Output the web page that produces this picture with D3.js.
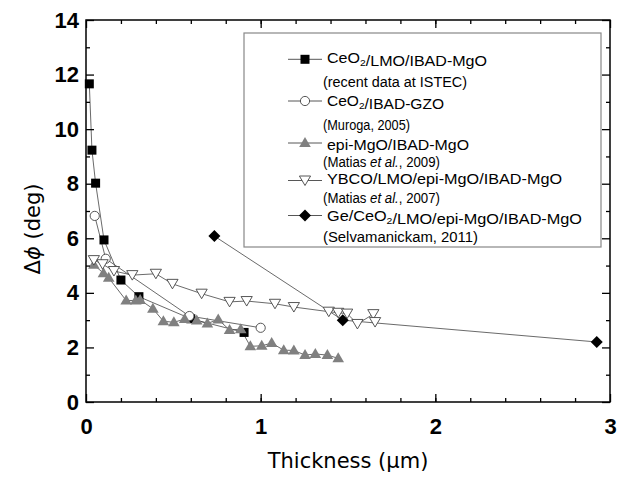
<!DOCTYPE html>
<html lang="en">
<head>
    <meta charset="UTF-8">
    <script src="https://d3js.org/d3.v7.min.js"></script>
    <title>Delta phi vs thickness</title>
    <style>
        body {
            margin: 0;
            overflow: hidden;
            background: white;
        }
        .tick-label {
            font-family: "Liberation Sans", Arial, sans-serif;
            font-weight: bold;
            font-size: 22px;
        }
        .legend text {
            font-family: "Liberation Sans", Arial, sans-serif;
            font-size: 14px;
        }
    </style>
</head>
<body>
    <script>
        // values
        const ceoLmo = [[0.019, 11.66], [0.034, 9.23], [0.055, 8.02], [0.103, 5.94], [0.20, 4.47],
                        [0.303, 3.86], [0.60, 3.05], [0.905, 2.55]];
        const ceoGzo = [[0.05, 6.82], [0.113, 5.25], [0.592, 3.15], [1.0, 2.72]];
        const epiMgo = [[0.045, 5.03], [0.10, 4.72], [0.13, 4.55], [0.23, 3.72], [0.285, 3.72],
                        [0.31, 3.74], [0.383, 3.42], [0.443, 2.96], [0.503, 2.92], [0.565, 3.04],
                        [0.634, 2.99], [0.695, 2.88], [0.757, 3.02], [0.822, 2.64], [0.886, 2.67],
                        [0.941, 2.04], [1.006, 2.06], [1.063, 2.16], [1.132, 1.90], [1.19, 1.89],
                        [1.254, 1.72], [1.313, 1.76], [1.382, 1.72], [1.444, 1.60]];
        const ybco = [[0.045, 5.2], [0.095, 5.05], [0.16, 4.8], [0.265, 4.65], [0.40, 4.7],
                      [0.495, 4.33], [0.662, 3.97], [0.822, 3.67], [0.92, 3.7], [1.082, 3.6],
                      [1.19, 3.48], [1.39, 3.31], [1.444, 3.27], [1.495, 3.24], [1.554, 2.86],
                      [1.645, 3.22], [1.655, 2.93]];
        const geCeo = [[0.735, 6.08], [1.47, 3.0], [2.924, 2.2]];

        const xTicks = [0, 1, 2, 3];
        const yTicks = [0, 2, 4, 6, 8, 10, 12, 14];

        const seriesNames = ["CeO2/LMO/IBAD-MgO", "CeO2/IBAD-GZO", "epi-MgO/IBAD-MgO",
                             "YBCO/LMO/epi-MgO/IBAD-MgO", "Ge/CeO2/LMO/epi-MgO/IBAD-MgO"];
        const seriesNotes = ["(recent data at ISTEC)", "(Muroga, 2005)", "(Matias et al., 2009)",
                             "(Matias et al., 2007)", "(Selvamanickam, 2011)"];
        const seriesData = [ceoLmo, ceoGzo, epiMgo, ybco, geCeo];
        const markerKinds = ["square", "circle", "triUp", "triDown", "diamond"];

        const width = 631, height = 479;
        const margin = {top: 20, left: 86, right: 21, bottom: 77};

        const svg = d3.select('body')
            .append('svg')
            .attr('width', width)
            .attr('height', height);

        const x = d3.scaleLinear()
            .domain([0, 3])
            .range([margin.left, width - margin.right]);

        const y = d3.scaleLinear()
            .domain([0, 14])
            .range([height - margin.bottom, margin.top]);

        const marker = (sel, kind) => {
            if (kind === 'square') {
                sel.append('rect').attr('x', -4.5).attr('y', -4.5).attr('width', 9).attr('height', 9)
                    .attr('fill', 'black');
            } else if (kind === 'circle') {
                sel.append('circle').attr('r', 4.6).attr('fill', 'white')
                    .attr('stroke', '#444').attr('stroke-width', 0.9);
            } else if (kind === 'triUp') {
                sel.append('path').attr('d', 'M0,-6L5.8,4L-5.8,4Z').attr('fill', '#808080');
            } else if (kind === 'triDown') {
                sel.append('path').attr('d', 'M0,5L5.6,-4.5L-5.6,-4.5Z').attr('fill', 'white')
                    .attr('stroke', '#444').attr('stroke-width', 0.9);
            } else {
                sel.append('path').attr('d', 'M0,-6L6,0L0,6L-6,0Z').attr('fill', 'black');
            }
        };

        const line = d3.line()
            .x(d => x(d[0]))
            .y(d => y(d[1]));

        // lines first, markers on top
        seriesData.forEach((data, i) => {
            svg.append('path')
                .datum(data)
                .attr('fill', 'none')
                .attr('stroke', '#444')
                .attr('stroke-width', 0.8)
                .attr('d', line);
        });

        seriesData.forEach((data, i) => {
            svg.selectAll(null)
                .data(data)
                .enter()
                .append('g')
                .attr('transform', d => `translate(${x(d[0])},${y(d[1])})`)
                .each(function() { marker(d3.select(this), markerKinds[i]); });
        });

        // axes, ticks point inward
        const bottom = svg.append('g')
            .attr('transform', `translate(0, ${y(0)})`)
            .call(d3.axisBottom(x).tickValues(xTicks).tickFormat(d3.format('d'))
                .tickSizeInner(-8).tickSizeOuter(0).tickPadding(16));
        svg.append('g')
            .attr('transform', `translate(0, ${y(0)})`)
            .call(d3.axisBottom(x).tickValues(d3.range(0.2, 3, 0.2)).tickSize(-4).tickFormat(''));
        svg.append('g')
            .attr('transform', `translate(0, ${y(14)})`)
            .call(d3.axisTop(x).tickValues(xTicks).tickSizeInner(-8).tickSizeOuter(0).tickFormat(''));
        svg.append('g')
            .attr('transform', `translate(0, ${y(14)})`)
            .call(d3.axisTop(x).tickValues(d3.range(0.2, 3, 0.2)).tickSize(-4).tickFormat(''));

        const left = svg.append('g')
            .attr('transform', `translate(${x(0)}, 0)`)
            .call(d3.axisLeft(y).tickValues(yTicks).tickSizeInner(-8).tickSizeOuter(0).tickPadding(7));
        svg.append('g')
            .attr('transform', `translate(${x(0)}, 0)`)
            .call(d3.axisLeft(y).tickValues(d3.range(1, 14, 2)).tickSize(-4).tickFormat(''));
        svg.append('g')
            .attr('transform', `translate(${x(3)}, 0)`)
            .call(d3.axisRight(y).tickValues(yTicks).tickSizeInner(-8).tickSizeOuter(0).tickFormat(''));
        svg.append('g')
            .attr('transform', `translate(${x(3)}, 0)`)
            .call(d3.axisRight(y).tickValues(d3.range(1, 14, 2)).tickSize(-4).tickFormat(''));

        svg.selectAll('.domain').remove();
        svg.selectAll('.tick line').attr('stroke', 'black').attr('stroke-width', 1.3);
        bottom.selectAll('.tick text').attr('class', 'tick-label').attr('fill', 'black');
        left.selectAll('.tick text').attr('class', 'tick-label').attr('fill', 'black');

        svg.append('rect')
            .attr('x', x(0))
            .attr('y', y(14))
            .attr('width', x(3) - x(0))
            .attr('height', y(0) - y(14))
            .attr('fill', 'none')
            .attr('stroke', 'black')
            .attr('stroke-width', 1.5);

        svg.append('text')
            .attr('x', (x(0) + x(3)) / 2)
            .attr('y', 468)
            .attr('text-anchor', 'middle')
            .style('font-family', '"DejaVu Sans", sans-serif')
            .style('font-size', '21px')
            .text('Thickness (\u03bcm)');

        const yTitle = svg.append('text')
            .attr('transform', 'translate(40, 229) rotate(-90)')
            .attr('text-anchor', 'middle')
            .style('font-family', '"DejaVu Sans", sans-serif')
            .style('font-size', '21px');
        yTitle.append('tspan').text('\u0394');
        yTitle.append('tspan').style('font-style', 'italic').text('\u03d5');
        yTitle.append('tspan').text(' (deg)');

        // legend
        const legend = svg.append('g').attr('class', 'legend');
        legend.append('rect')
            .attr('x', 244).attr('y', 33).attr('width', 357).attr('height', 214)
            .attr('fill', 'white').attr('stroke', '#888').attr('stroke-width', 1.2);

        const markerRows = [59.3, 101, 143, 180.5, 215.5];
        const nameBase = [63.3, 106, 150, 184, 220.7];
        const noteBase = [87.3, 130, 166.7, 203.3, 242];
        const nameWidths = [160, 117, 142, 235, 255];
        const noteWidths = [144, 87, 117, 117, 155];

        const writeLabel = (t, label) => {
            // subscript the 2 in CeO2, italic "et al."
            const parts = label.split(/(O2|et al\.)/);
            parts.forEach(p => {
                if (p === 'O2') {
                    t.append('tspan').text('O');
                    t.append('tspan').attr('dy', 3).style('font-size', '9px').text('2');
                    t.append('tspan').attr('dy', -3).text('');
                } else if (p === 'et al.') {
                    t.append('tspan').style('font-style', 'italic').text('et al.');
                } else if (p) {
                    t.append('tspan').text(p);
                }
            });
        };

        seriesNames.forEach((name, i) => {
            const my = markerRows[i];
            legend.append('line')
                .attr('x1', 288).attr('x2', 322).attr('y1', my).attr('y2', my)
                .attr('stroke', '#444').attr('stroke-width', 0.9);
            const g = legend.append('g').attr('transform', `translate(305, ${my})`);
            marker(g, markerKinds[i]);

            const t1 = legend.append('text')
                .attr('x', 327).attr('y', nameBase[i])
                .attr('textLength', nameWidths[i]).attr('lengthAdjust', 'spacingAndGlyphs');
            writeLabel(t1, name);

            const t2 = legend.append('text')
                .attr('x', 323).attr('y', noteBase[i])
                .attr('textLength', noteWidths[i]).attr('lengthAdjust', 'spacingAndGlyphs');
            writeLabel(t2, seriesNotes[i]);
        });
    </script>
</body>
</html>
